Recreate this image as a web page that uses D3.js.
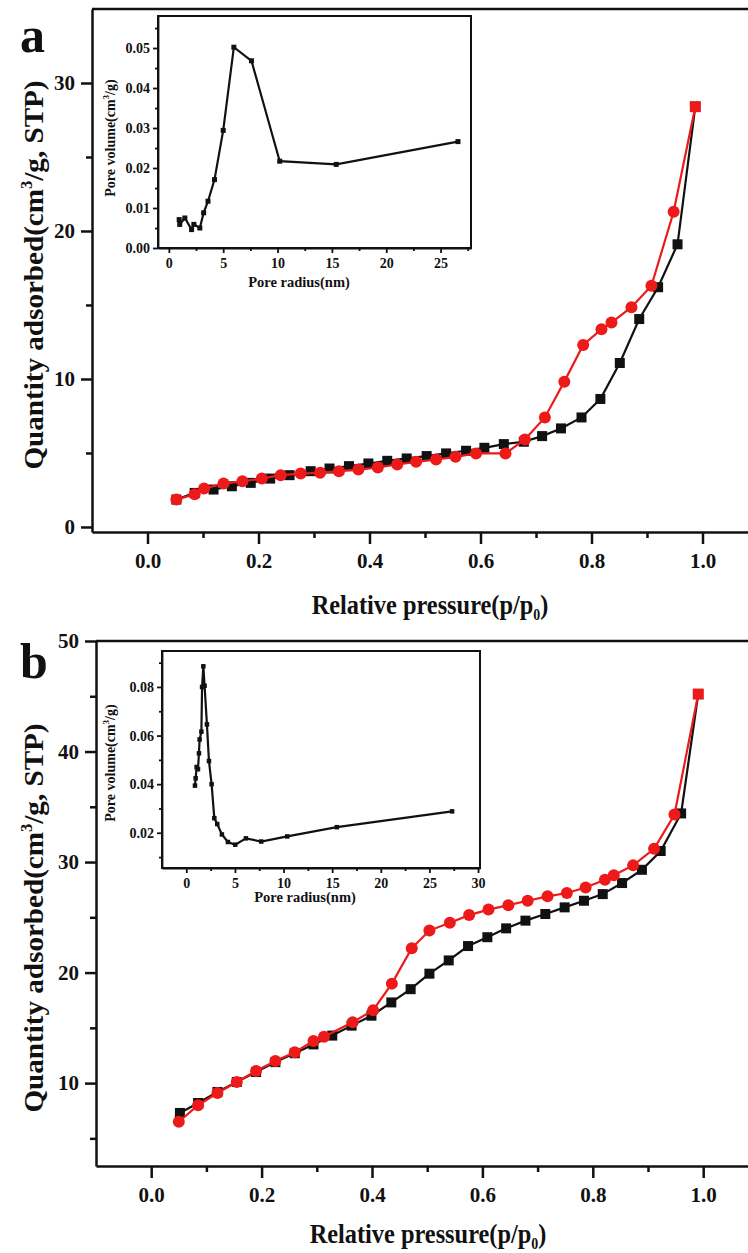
<!DOCTYPE html>
<html><head><meta charset="utf-8">
<script src="https://cdn.jsdelivr.net/npm/d3@7"></script>
<style>
body{margin:0;background:#fff}
svg{display:block}
text{font-family:"Liberation Serif","Times New Roman",serif;font-weight:bold;fill:#111}
</style>
</head><body>
<svg id="c" width="748" height="1253"></svg>
<script>
// ---------- data ----------
// panel a : isotherm (adsorption = black squares, desorption = red circles)
const aAdsX = [0.052,0.085,0.119,0.152,0.186,0.221,0.256,0.294,0.328,0.363,0.398,0.432,0.467,0.503,0.538,0.574,0.607,0.642,0.678,0.711,0.745,0.782,0.816,0.851,0.886,0.920,0.955,0.987];
const aAdsY = [1.85,2.30,2.53,2.75,2.98,3.27,3.50,3.77,3.95,4.11,4.29,4.47,4.63,4.79,4.97,5.15,5.35,5.60,5.76,6.14,6.66,7.40,8.65,11.08,14.05,16.2,19.1,28.4];
const aDesX = [0.052,0.085,0.102,0.137,0.171,0.206,0.240,0.276,0.311,0.345,0.380,0.415,0.450,0.484,0.520,0.555,0.592,0.645,0.680,0.716,0.751,0.785,0.818,0.836,0.872,0.908,0.948,0.987];
const aDesY = [1.85,2.21,2.60,2.93,3.09,3.27,3.50,3.61,3.66,3.77,3.88,4.02,4.22,4.40,4.56,4.74,4.97,4.97,5.91,7.40,9.82,12.30,13.36,13.81,14.85,16.3,21.3,28.4];
// panel a inset : pore size distribution
const aPoreX = [0.95,1.0,1.47,2.09,2.3,2.85,3.2,3.6,4.2,5.0,5.98,7.6,10.2,15.4,26.6];
const aPoreY = [0.0071,0.0059,0.0075,0.0046,0.0059,0.0050,0.0088,0.0117,0.0171,0.0294,0.0502,0.0468,0.0217,0.0209,0.0266];

// panel b
const bAdsX = [0.052,0.085,0.120,0.155,0.190,0.225,0.260,0.294,0.328,0.363,0.399,0.435,0.470,0.504,0.539,0.574,0.609,0.643,0.678,0.714,0.749,0.784,0.818,0.853,0.889,0.923,0.960,0.991];
const bAdsY = [7.3,8.2,9.2,10.1,11.0,11.9,12.7,13.5,14.3,15.2,16.1,17.3,18.5,19.9,21.1,22.4,23.2,24.0,24.7,25.3,25.9,26.5,27.1,28.1,29.3,31.0,34.4,45.2];
const bDesX = [0.050,0.085,0.120,0.155,0.190,0.225,0.260,0.294,0.313,0.365,0.402,0.436,0.472,0.504,0.541,0.576,0.611,0.647,0.682,0.718,0.753,0.787,0.822,0.838,0.873,0.911,0.948,0.991];
const bDesY = [6.5,8.0,9.1,10.1,11.1,12.0,12.8,13.8,14.2,15.5,16.6,19.0,22.2,23.8,24.5,25.2,25.7,26.1,26.5,26.9,27.2,27.7,28.4,28.8,29.7,31.2,34.3,45.2];
const bPoreX = [0.89,0.96,1.06,1.2,1.3,1.37,1.55,1.62,1.75,1.88,2.12,2.33,2.6,2.88,3.18,3.66,4.28,5.03,6.13,7.7,10.38,15.48,27.33];
const bPoreY = [0.0394,0.0424,0.0470,0.0462,0.0527,0.0584,0.0616,0.0800,0.0885,0.0805,0.0646,0.0495,0.0400,0.0260,0.0236,0.0193,0.0162,0.0151,0.0177,0.0164,0.0185,0.0223,0.0288];

// ticks
const xMajor = [0,0.2,0.4,0.6,0.8,1.0];
const xMinor = [0.1,0.3,0.5,0.7,0.9];
const aYMajor = [0,10,20,30], aYMinor = [5,15,25];
const bYMajor = [10,20,30,40,50], bYMinor = [5,15,25,35,45];
const aInXMajor = [0,5,10,15,20,25], aInXMinor = [2.5,7.5,12.5,17.5,22.5,27.5];
const aInYMajor = [0,0.01,0.02,0.03,0.04,0.05], aInYMinor = [0.005,0.015,0.025,0.035,0.045,0.055];
const bInXMajor = [0,5,10,15,20,25,30], bInXMinor = [2.5,7.5,12.5,17.5,22.5,27.5];
const bInYMajor = [0.02,0.04,0.06,0.08], bInYMinor = [0.01,0.03,0.05,0.07,0.09];

const RED = "#ee1a1a";
const svg = d3.select("#c");

function drawAxis(g, gen, major, minor, fmt, big, small, pad, fs, sw){
  const a = g.append("g").call(gen.tickValues(major).tickSize(big).tickSizeOuter(0).tickPadding(pad).tickFormat(fmt));
  a.selectAll("path").attr("stroke","#111").attr("stroke-width",sw);
  a.selectAll("line").attr("stroke","#111").attr("stroke-width",sw);
  a.selectAll("text").attr("font-size",fs).attr("fill","#111")
    .style("font-family",'"Liberation Serif","Times New Roman",serif').style("font-weight","bold");
  const m = g.append("g").call(gen.tickValues(minor).tickSize(small).tickSizeOuter(0).tickFormat(""));
  m.select("path").remove();
  m.selectAll("line").attr("stroke","#111").attr("stroke-width",sw);
  return a;
}

function mainPanel(o){
  const x = d3.scaleLinear().domain([-0.1,1.1]).range([o.left, o.left+1.2*o.pxu]);
  const y = d3.scaleLinear().domain(o.yDom).range([o.bottom, o.top]);
  const g = svg.append("g");
  // frame top
  g.append("line").attr("x1",o.left).attr("x2",x(1.1)).attr("y1",o.top).attr("y2",o.top)
    .attr("stroke","#111").attr("stroke-width",2.5);
  const xa = g.append("g").attr("transform",`translate(0,${o.bottom})`);
  const ta = drawAxis(xa, d3.axisBottom(x), xMajor, xMinor, d3.format(".1f"), 12, 6, 8, 21, 2.5);
  ta.selectAll("text").attr("dy","0.75em");
  const ya = g.append("g").attr("transform",`translate(${o.left},0)`);
  drawAxis(ya, d3.axisLeft(y), o.yMajor, o.yMinor, d3.format("d"), 11, 6, 6, 21, 2.5);
  // titles
  g.append("text").attr("transform",`translate(${o.xTitleX},${o.xTitleY}) scale(0.87,1)`).attr("text-anchor","middle")
    .attr("font-size",28)
    .call(t=>{t.append("tspan").text("Relative pressure(p/p");
      t.append("tspan").attr("font-size",16).attr("dy",6).text("0");
      t.append("tspan").attr("dy",-6).text(")");});
  g.append("text").attr("transform",`translate(${o.yTitleX},${o.yTitleY}) rotate(-90) scale(1.04,1)`).attr("text-anchor","middle")
    .attr("font-size",28)
    .call(t=>{t.append("tspan").text("Quantity adsorbed(cm");
      t.append("tspan").attr("font-size",16).attr("dy",-11).text("3");
      t.append("tspan").attr("dy",11).text("/g, STP)");});
  g.append("text").attr("x",o.letterX).attr("y",o.letterY).attr("font-size",50).text(o.letter);

  const line = d3.line();
  const ads = o.adsX.map((v,i)=>[x(v),y(o.adsY[i])]);
  const des = o.desX.map((v,i)=>[x(v),y(o.desY[i])]);
  g.append("path").attr("d",line(ads)).attr("fill","none").attr("stroke","#111").attr("stroke-width",2.2);
  g.selectAll(null).data(ads).enter().append("rect")
    .attr("x",d=>d[0]-5).attr("y",d=>d[1]-5).attr("width",10).attr("height",10).attr("fill","#111");
  g.append("path").attr("d",line(des)).attr("fill","none").attr("stroke",RED).attr("stroke-width",2.2);
  const last = des.length-1;
  g.selectAll(null).data(des.filter((d,i)=>i<last)).enter().append("circle")
    .attr("cx",d=>d[0]).attr("cy",d=>d[1]).attr("r",6).attr("fill",RED);
  g.append("rect").datum(des[last]).attr("x",d=>d[0]-5.5).attr("y",d=>d[1]-5.5).attr("width",11).attr("height",11).attr("fill",RED);
}

function inset(o){
  const x = d3.scaleLinear().domain(o.xDom).range([o.l,o.r]);
  const y = d3.scaleLinear().domain(o.yDom).range([o.b,o.t]);
  const g = svg.append("g");
  g.append("rect").attr("x",o.l).attr("y",o.t).attr("width",o.r-o.l).attr("height",o.b-o.t)
    .attr("fill","#fff").attr("stroke","#111").attr("stroke-width",2);
  const xa = g.append("g").attr("transform",`translate(0,${o.b})`);
  const ta = drawAxis(xa, d3.axisBottom(x), o.xMajor, o.xMinor, d3.format("d"), 5, 3, 4, 14, 1.8);
  ta.selectAll("text").attr("dy","0.75em");
  const ya = g.append("g").attr("transform",`translate(${o.l},0)`);
  drawAxis(ya, d3.axisLeft(y), o.yMajor, o.yMinor, d3.format(".2f"), 5, 3, 3, 14, 1.8);
  g.append("text").attr("x",o.xtx).attr("y",o.xty).attr("text-anchor","middle").attr("font-size",14.5).text("Pore radius(nm)");
  g.append("text").attr("transform",`translate(${o.ytx},${o.yty}) rotate(-90)`).attr("text-anchor","middle")
    .attr("font-size",14).call(t=>{t.append("tspan").text("Pore volume(cm");
      t.append("tspan").attr("font-size",9).attr("dy",-6).text("3");
      t.append("tspan").attr("dy",6).text("/g)");});
  const pts = o.px.map((v,i)=>[x(v),y(o.py[i])]);
  g.append("path").attr("d",d3.line()(pts)).attr("fill","none").attr("stroke","#111").attr("stroke-width",2.2);
  g.selectAll(null).data(pts).enter().append("rect")
    .attr("x",d=>d[0]-o.ms/2).attr("y",d=>d[1]-o.ms/2).attr("width",o.ms).attr("height",o.ms).attr("fill","#111");
}

mainPanel({left:92, pxu:555, top:9, bottom:532, yDom:[-0.34,35], yMajor:aYMajor, yMinor:aYMinor,
  adsX:aAdsX, adsY:aAdsY, desX:aDesX, desY:aDesY, xTitleX:430, xTitleY:614, yTitleX:43, yTitleY:275,
  letter:"a", letterX:20, letterY:52});
inset({l:158, r:471, t:16, b:248, xDom:[-1,27.8], yDom:[0,0.058], xMajor:aInXMajor, xMinor:aInXMinor,
  yMajor:aInYMajor, yMinor:aInYMinor, px:aPoreX, py:aPoreY, xtx:299, xty:287, ytx:115, yty:138, ms:5});

mainPanel({left:96, pxu:552, top:641, bottom:1166, yDom:[2.5,50], yMajor:bYMajor, yMinor:bYMinor,
  adsX:bAdsX, adsY:bAdsY, desX:bDesX, desY:bDesY, xTitleX:428, xTitleY:1243, yTitleX:43, yTitleY:918,
  letter:"b", letterX:20, letterY:678});
inset({l:162, r:480, t:651, b:868, xDom:[-2.5,30.2], yDom:[0.0055,0.0948], xMajor:bInXMajor, xMinor:bInXMinor,
  yMajor:bInYMajor, yMinor:bInYMinor, px:bPoreX, py:bPoreY, xtx:305, xty:902, ytx:115, yty:763, ms:4.5});
</script>
</body></html>
